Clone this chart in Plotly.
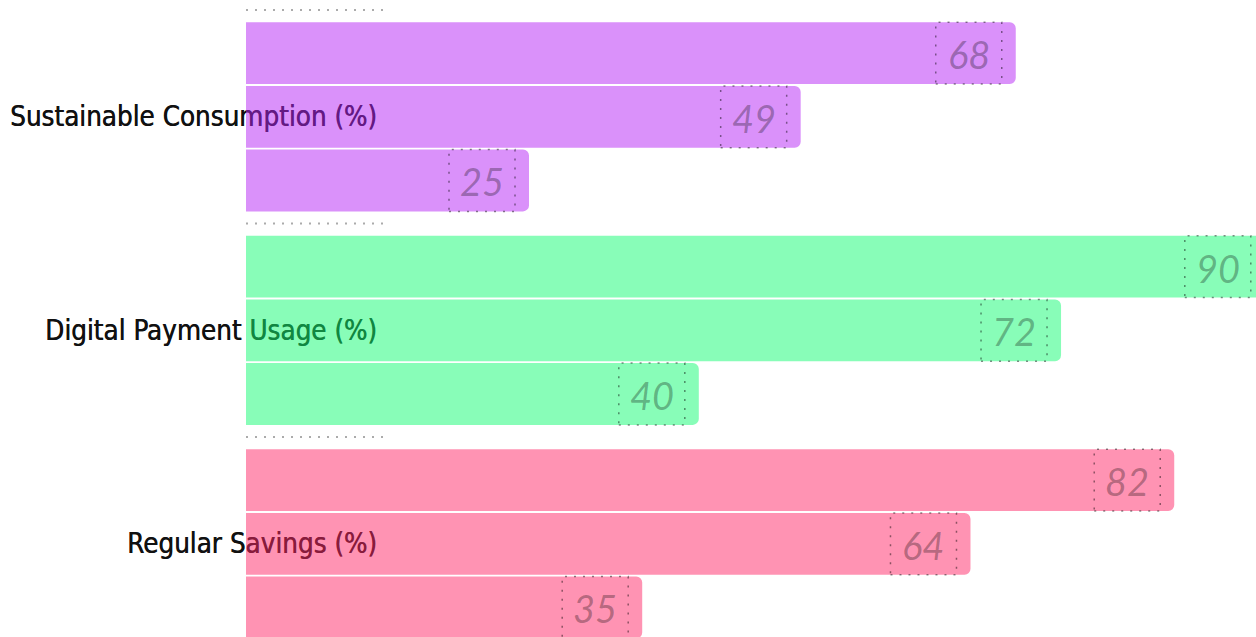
import plotly.graph_objects as go

categories = ["Regular Savings (%)", "Digital Payment Usage (%)", "Sustainable Consumption (%)"]
series_names = ["Series 1", "Series 2", "Series 3"]
series_values = [
    [35, 40, 25],
    [64, 72, 49],
    [82, 90, 68],
]
category_colors = ["rgba(255,39,103,0.5)", "rgba(17,251,113,0.5)", "rgba(181,35,245,0.5)"]

BARGAP = 0.105
BARGROUPGAP = 0.03
n_series = len(series_values)

fig = go.Figure()
for name, vals in zip(series_names, series_values):
    fig.add_trace(go.Bar(
        y=categories, x=vals, name=name, orientation="h",
        marker=dict(color=category_colors, line=dict(width=0)),
        hoverinfo="x+y",
    ))

slot = (1 - BARGAP) / n_series
barw = slot * (1 - BARGROUPGAP)
annotations = []
shapes = []
for k, vals in enumerate(series_values):
    for i, v in enumerate(vals):
        yc = i - (1 - BARGAP) / 2 + slot * (k + 0.5)
        annotations.append(dict(
            x=v, y=yc, xref="x", yref="y", text=str(v), showarrow=False,
            xanchor="center", yanchor="middle", xshift=-47, yshift=-1,
            font=dict(family="Lato, Open Sans, sans-serif", size=38, color="rgba(0,0,0,0.3)", style="italic"),
        ))
        shapes.append(dict(
            type="rect", xref="x", yref="y", xsizemode="pixel", xanchor=v,
            x0=-80, x1=-14, y0=yc - barw / 2, y1=yc + barw / 2,
            line=dict(color="rgba(0,0,0,0.45)", width=1.5, dash="2px,7px"),
            fillcolor="rgba(0,0,0,0)", layer="above",
        ))

for i in range(len(categories)):
    shapes.append(dict(
        type="line", xref="x", yref="y", xsizemode="pixel", xanchor=0,
        x0=0, x1=139, y0=i + 0.5, y1=i + 0.5,
        line=dict(color="rgba(150,150,150,0.8)", width=2, dash="2px,7px"),
        layer="above",
    ))

fig.update_layout(
    width=1276, height=645,
    margin=dict(l=246, r=0, t=0, b=0, autoexpand=False),
    barmode="group", bargap=BARGAP, bargroupgap=BARGROUPGAP,
    barcornerradius=6,
    showlegend=False,
    plot_bgcolor="white", paper_bgcolor="white",
    annotations=annotations, shapes=shapes,
    xaxis=dict(range=[0, 90.99], showgrid=False, zeroline=False, showticklabels=False,
               showline=False, ticks=""),
    yaxis=dict(range=[-0.474, 2.547], showgrid=False, zeroline=False, showline=False,
               ticks="", layer="below traces", ticklabelstandoff=-132,
               tickfont=dict(family="DejaVu Sans Condensed, DejaVu Sans, sans-serif", size=27.5,
                             color="#111111", shadow="0.5px 0 0 #111111")),
)

fig.write_html(
    "out.html",
    config={"displayModeBar": False},
    post_script="document.body.style.margin='0';document.documentElement.style.overflow='hidden';document.body.style.overflow='hidden';",
)
